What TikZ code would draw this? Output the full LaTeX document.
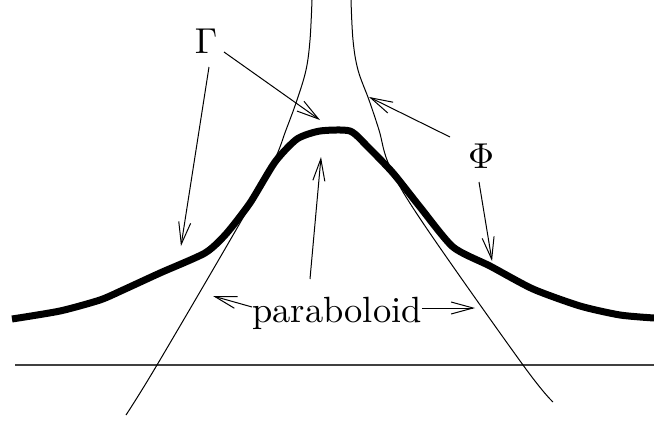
\documentclass[tikz,border=0pt]{standalone}
\usepackage{graphicx}
\usetikzlibrary{arrows.meta}
\begin{document}
\begin{tikzpicture}[x=1pt,y=-1pt,
  thinline/.style={line width=1pt},
  arr/.style={line width=1pt,-{Straight Barb[length=22pt,width=12pt,line width=1pt]}},
  lbl/.style={inner sep=0pt}]
\useasboundingbox (0,0) rectangle (654,421);
% base line
\coordinate (hl) at (15,365);
\coordinate (hr) at (654,365);
\draw[line width=1.2pt,black!75] (hl) -- (hr);
% thin curves (Phi)
\draw[thinline] plot[smooth,tension=0.6] coordinates {(312,0) (310,40) (306,70) (297,100) (286,130) (273,163) (240,223) (157,365) (126,415)};
\draw[thinline] plot[smooth,tension=0.6] coordinates {(351,0) (353,40) (358,70) (369,100) (379,130) (390,167) (423,223) (523,365) (553,402)};
% thick curve (Gamma)
\draw[line width=7pt,line join=round] plot[smooth,tension=0.4] coordinates {(12,319) (60,311) (100,300) (123,290) (160,273) (205,253) (226,234) (250,203) (275,162) (297,139) (320,131) (350,131) (368,147) (393,173) (420,207) (453,247) (490,266) (533,289) (580,306) (620,315) (654,318)};
% labels
\node[lbl] (G) at (206,41) {\scalebox{3.6}{$\Gamma$}};
\node[lbl] (P) at (481,156) {\scalebox{3.6}{$\Phi$}};
\node[lbl,anchor=base] (par) at (337,322) {\scalebox{3.65}{paraboloid}};
% arrow targets
\coordinate (g1) at (320,120);
\coordinate (g2) at (181,246);
\coordinate (p1) at (369,97);
\coordinate (p2) at (492,261);
\coordinate (q1) at (321,157);
\coordinate (q2) at (213,296);
\coordinate (q3) at (475,308);
% arrows
\draw[arr] ([shift={(18,11)}]G.center) -- (g1);
\draw[arr] ([shift={(3,26)}]G.center) -- (g2);
\draw[arr] ([shift={(-31,-19)}]P.center) -- (p1);
\draw[arr] ([shift={(-2,26)}]P.center) -- (p2);
\draw[arr] ([shift={(-27,-43)}]par.base) -- (q1);
\draw[arr] ([yshift=15pt]par.base west) -- (q2);
\draw[arr] ([yshift=14pt]par.base east) -- (q3);
\end{tikzpicture}
\end{document}
